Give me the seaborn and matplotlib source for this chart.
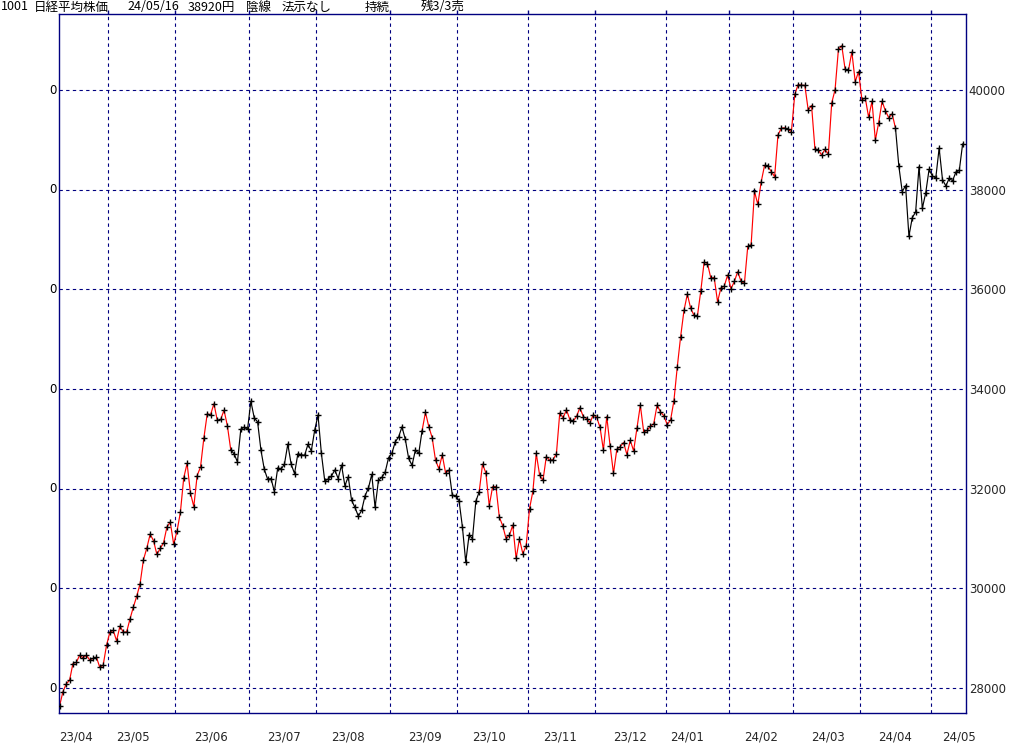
import numpy as np
import pandas as pd
import matplotlib
matplotlib.use("Agg")
import matplotlib.pyplot as plt
import seaborn as sns

# ---- data: daily closes (trading days per month) ----
apr23_days = [10, 11, 12, 13, 14, 17, 18, 19, 20, 21, 24, 25, 26, 27, 28]
apr23 = [27634, 27923, 28083, 28157, 28493, 28515, 28659, 28607, 28658, 28564,
         28594, 28620, 28416, 28458, 28856]
may23_days = [1, 2, 8, 9, 10, 11, 12, 15, 16, 17, 18, 19, 22, 23, 24, 25, 26, 29, 30, 31]
may23 = [29123, 29158, 28950, 29243, 29122, 29127, 29388, 29626, 29843, 30094,
         30574, 30808, 31087, 30958, 30683, 30801, 30916, 31234, 31328, 30888]
jun23_days = [1, 2, 5, 6, 7, 8, 9, 12, 13, 14, 15, 16, 19, 20, 21, 22, 23, 26, 27, 28, 29, 30]
jun23 = [31148, 31524, 32217, 32507, 31914, 31641, 32265, 32434, 33019, 33502, 33485,
         33706, 33370, 33389, 33575, 33265, 32782, 32699, 32538, 33194, 33234, 33189]
jul23_days = [3, 4, 5, 6, 7, 10, 11, 12, 13, 14, 18, 19, 20, 21, 24, 25, 26, 27, 28, 31]
jul23 = [33753, 33423, 33339, 32773, 32388, 32190, 32204, 31944, 32419, 32391,
         32494, 32896, 32491, 32304, 32701, 32683, 32668, 32891, 32759, 33172]
aug23_days = [1, 2, 3, 4, 7, 8, 9, 10, 14, 15, 16, 17, 18, 21, 22, 23, 24, 25, 28, 29, 30, 31]
aug23 = [33477, 32708, 32159, 32193, 32255, 32377, 32204, 32474, 32060, 32239, 31767,
         31626, 31451, 31566, 31857, 32010, 32287, 31624, 32170, 32227, 32333, 32619]
sep23_days = [1, 4, 5, 6, 7, 8, 11, 12, 13, 14, 15, 19, 20, 21, 22, 25, 26, 27, 28, 29]
sep23 = [32711, 32939, 33037, 33241, 32991, 32607, 32468, 32776, 32707, 33168,
         33533, 33243, 33024, 32571, 32402, 32679, 32315, 32372, 31873, 31858]
oct23_days = [2, 3, 4, 5, 6, 10, 11, 12, 13, 16, 17, 18, 19, 20, 23, 24, 25, 26, 27, 30, 31]
oct23 = [31760, 31238, 30527, 31075, 30995, 31747, 31937, 32495, 32316, 31659, 32040,
         32042, 31431, 31259, 31000, 31062, 31270, 30602, 30992, 30697, 30859]
nov23_days = [1, 2, 6, 7, 8, 9, 10, 13, 14, 15, 16, 17, 20, 21, 22, 24, 27, 28, 29, 30]
nov23 = [31602, 31950, 32708, 32272, 32166, 32646, 32568, 32585, 32696, 33520,
         33424, 33585, 33388, 33354, 33452, 33626, 33448, 33408, 33321, 33487]
dec23_days = [1, 4, 5, 6, 7, 8, 11, 12, 13, 14, 15, 18, 19, 20, 21, 22, 25, 26, 27, 28, 29]
dec23 = [33432, 33231, 32776, 33446, 32858, 32308, 32792, 32844, 32926, 32686, 32971,
         32759, 33219, 33676, 33140, 33169, 33254, 33306, 33681, 33540, 33464]
jan24_days = [4, 5, 9, 10, 11, 12, 15, 16, 17, 18, 19, 22, 23, 24, 25, 26, 29, 30, 31]
jan24 = [33288, 33377, 33763, 34442, 35050, 35577, 35902, 35619, 35478, 35466,
         35963, 36547, 36518, 36226, 36236, 35751, 36027, 36066, 36287]
feb24_days = [1, 2, 5, 6, 7, 8, 9, 13, 14, 15, 16, 19, 20, 21, 22, 26, 27, 28, 29]
feb24 = [36011, 36158, 36354, 36161, 36120, 36863, 36897, 37964, 37703, 38158,
         38487, 38470, 38364, 38262, 39099, 39234, 39240, 39208, 39166]
mar24_days = [1, 4, 5, 6, 7, 8, 11, 12, 13, 14, 15, 18, 19, 21, 22, 25, 26, 27, 28, 29]
mar24 = [39911, 40109, 40098, 40091, 39599, 39689, 38820, 38798, 38696, 38807,
         38708, 39740, 40004, 40816, 40888, 40414, 40398, 40763, 40168, 40369]
apr24_days = [1, 2, 3, 4, 5, 8, 9, 10, 11, 12, 15, 16, 17, 18, 19, 22, 23, 24, 25, 26, 30]
apr24 = [39803, 39839, 39452, 39773, 38992, 39347, 39773, 39582, 39443, 39524, 39233,
         38471, 37962, 38080, 37068, 37439, 37552, 38460, 37628, 37935, 38406]
may24_days = [1, 2, 7, 8, 9, 10, 13, 14, 15, 16]
may24 = [38274, 38236, 38835, 38202, 38074, 38229, 38179, 38356, 38386, 38920]

# trend-state runs (line colour): red = up, black = down
run_starts = ["2023-04-10", "2023-06-23", "2023-09-14", "2023-09-27", "2023-10-11", "2024-04-15"]
run_ends = ["2023-06-23", "2023-09-14", "2023-09-27", "2023-10-11", "2024-04-15", "2024-05-16"]
run_states = ["up", "down", "up", "down", "up", "down"]

y_ticks = [28000, 30000, 32000, 34000, 36000, 38000, 40000]
title_parts = ["1001", "日経平均株価", "24/05/16", "38920円", "陰線", "法示なし", "持続", "残3/3売"]

# ---- build table ----
months = [(2023, 4, apr23_days, apr23), (2023, 5, may23_days, may23), (2023, 6, jun23_days, jun23),
          (2023, 7, jul23_days, jul23), (2023, 8, aug23_days, aug23), (2023, 9, sep23_days, sep23),
          (2023, 10, oct23_days, oct23), (2023, 11, nov23_days, nov23), (2023, 12, dec23_days, dec23),
          (2024, 1, jan24_days, jan24), (2024, 2, feb24_days, feb24), (2024, 3, mar24_days, mar24),
          (2024, 4, apr24_days, apr24), (2024, 5, may24_days, may24)]
dates, closes = [], []
for yy, mm, days, vals in months:
    dates += [pd.Timestamp(yy, mm, d) for d in days]
    closes += vals
df = pd.DataFrame({"date": dates, "close": closes})
df["i"] = np.arange(len(df))

parts = []
for k, (s, e, st) in enumerate(zip(run_starts, run_ends, run_states)):
    sub = df[(df.date >= s) & (df.date <= e)].copy()
    sub["run"] = k
    sub["state"] = st
    parts.append(sub)
seg = pd.concat(parts, ignore_index=True)

# month boundaries and label positions
ym = df.date.dt.to_period("M")
first_idx = df.groupby(ym)["i"].min()
bounds = [v - 0.5 for v in first_idx.values[1:]]
lab_pos, lab_txt = [], []
for p, g in df.groupby(ym):
    mid = g[g.date.dt.day >= 15]
    lab_pos.append(mid["i"].iloc[0] if len(mid) else g["i"].iloc[-1])
    lab_txt.append(f"{p.year % 100:02d}/{p.month:02d}")

# ---- draw ----
sns.set_theme(style="white")
plt.rcParams["font.family"] = ["DejaVu Sans", "Noto Sans CJK JP"]
navy = "#000080"

fig = plt.figure(figsize=(10.24, 7.45), dpi=100)
ax = fig.add_axes([59 / 1024, 1 - 713 / 745, (966 - 59) / 1024, (713 - 14) / 745])

sns.lineplot(data=seg, x="i", y="close", hue="state", units="run", estimator=None,
             palette={"up": "#ff0000", "down": "#000000"}, linewidth=0.85,
             legend=False, sort=False, ax=ax)
sns.scatterplot(data=df, x="i", y="close", marker="+", color="black", s=16,
                linewidth=1.0, legend=False, ax=ax, zorder=4)

ax.set_xlim(-0.15, len(df))
ax.set_ylim(27500, 41525)
ax.set_xlabel("")
ax.set_ylabel("")

ax.set_xticks(bounds)
ax.set_xticklabels([])
ax.set_xticks(lab_pos, minor=True)
ax.set_xticklabels(lab_txt, minor=True)
ax.tick_params(axis="x", which="minor", length=0, pad=12.5, labelsize=8.5, bottom=True, top=False)
ax.tick_params(axis="x", which="major", bottom=False, top=True, length=3, width=1,
               color=navy, direction="out")

ax.set_yticks(y_ticks)
ax.yaxis.tick_right()
ax.set_yticklabels([str(v) for v in y_ticks])
ax.tick_params(axis="y", length=0, pad=2, labelsize=8.5, right=True, left=False)

ax.grid(True, which="major", axis="both", color=navy, linewidth=0.8, linestyle=(0, (3, 3)))
ax.grid(False, which="minor")
for sp in ax.spines.values():
    sp.set_color(navy)
    sp.set_linewidth(1.0)

# clipped left-side labels (only the last digit shows in the original)
for v in y_ticks:
    ax.text(-2.5 / 907, v, "0", transform=ax.get_yaxis_transform(), ha="right",
            va="center", fontsize=8.5, color="black")

# header text
title_x = [1, 34, 127, 188, 246, 282, 365, 421]
for px, t in zip(title_x, title_parts):
    fig.text(px / 1024, 1 - 7 / 745, t, ha="left", va="center", fontsize=9,
             family=["Noto Sans CJK JP", "DejaVu Sans"], color="black")

fig.savefig("out.png", dpi=100)
